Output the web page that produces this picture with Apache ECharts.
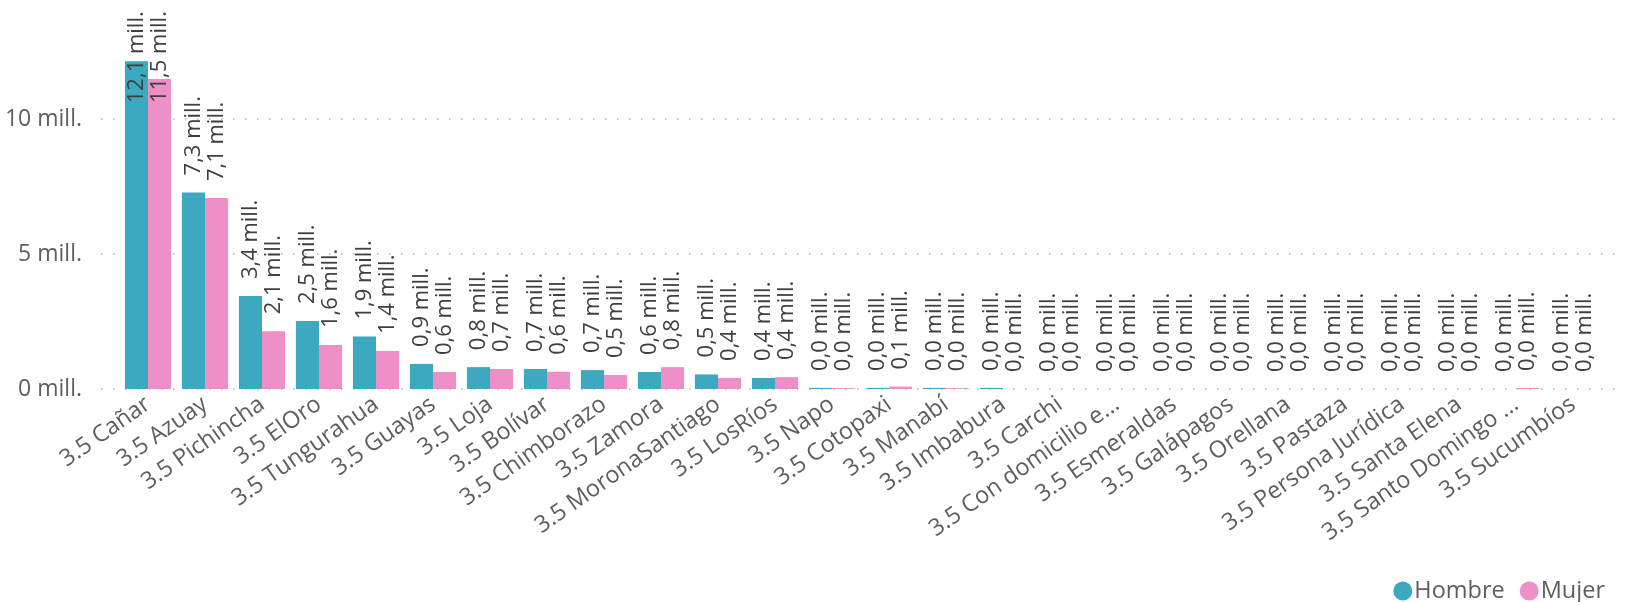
<!DOCTYPE html>
<html>
<head>
<meta charset="utf-8">
<script src="https://cdn.jsdelivr.net/npm/echarts@6/dist/echarts.min.js"></script>
<style>
  html, body { margin: 0; padding: 0; background: #ffffff; }
  #chart { width: 1628px; height: 602px; }
</style>
</head>
<body>
<div id="chart"></div>
<script>
// Categories (provinces)
const categories = [
  '3.5 Cañar', '3.5 Azuay', '3.5 Pichincha', '3.5 ElOro', '3.5 Tungurahua',
  '3.5 Guayas', '3.5 Loja', '3.5 Bolívar', '3.5 Chimborazo', '3.5 Zamora',
  '3.5 MoronaSantiago', '3.5 LosRíos', '3.5 Napo', '3.5 Cotopaxi', '3.5 Manabí',
  '3.5 Imbabura', '3.5 Carchi', '3.5 Con domicilio e...', '3.5 Esmeraldas', '3.5 Galápagos',
  '3.5 Orellana', '3.5 Pastaza', '3.5 Persona Jurídica', '3.5 Santa Elena', '3.5 Santo Domingo ...',
  '3.5 Sucumbíos'
];
// Values in millions
const hombre = [12.14, 7.28, 3.44, 2.52, 1.94, 0.93, 0.81, 0.74, 0.70, 0.63,
  0.54, 0.41, 0.04, 0.04, 0.04, 0.04, 0, 0, 0, 0, 0, 0, 0, 0, 0, 0];
const mujer = [11.48, 7.07, 2.14, 1.63, 1.41, 0.63, 0.74, 0.64, 0.52, 0.81,
  0.41, 0.44, 0.03, 0.09, 0.03, 0, 0, 0, 0, 0, 0, 0, 0, 0, 0.04, 0];
const seriesNames = ['Hombre', 'Mujer'];
const yTicks = [0, 5, 10];
const yMax = 12.5;

const FONT = '"Segoe UI", "Open Sans", "Noto Sans", sans-serif';
const fmt = v => (Math.round(v * 10) / 10).toFixed(1).replace('.', ',') + ' mill.';

// the first category's labels do not fit above the bars, so they are pulled down
const firstLabelShift = { Hombre: 42, Mujer: 24 };
function buildData(arr, name) {
  return arr.map((v, i) => i === 0
    ? { value: v, label: { position: 'insideTop', distance: firstLabelShift[name] } }
    : v);
}

const chart = echarts.init(document.getElementById('chart'), null, { renderer: 'canvas' });
const labelCommon = {
  show: true,
  position: 'top',
  distance: 17,
  rotate: 90,
  align: 'left',
  verticalAlign: 'middle',
  fontFamily: FONT,
  fontSize: 22,
  color: '#3f3f3f',
  formatter: p => fmt(p.value)
};

const GRID_TOP = 51.5, GRID_BOTTOM = 213;

chart.setOption({
  animation: false,
  backgroundColor: '#ffffff',
  color: ['#3DA9C1', '#EE8FC8'],
  grid: [
    { left: 119.5, right: 26.5, top: GRID_TOP, bottom: GRID_BOTTOM },
    { left: 101, right: 12, top: GRID_TOP, bottom: GRID_BOTTOM }
  ],
  legend: {
    data: seriesNames,
    right: 18,
    top: 574,
    icon: 'circle',
    itemWidth: 19,
    itemHeight: 19,
    itemGap: 15,
    textStyle: { fontFamily: FONT, fontSize: 23.5, color: '#605E5C', padding: [0, 0, 0, -3] }
  },
  xAxis: [
    {
      type: 'category',
      gridIndex: 0,
      data: categories,
      axisLine: { show: false },
      axisTick: { show: false },
      axisLabel: {
        interval: 0,
        rotate: 35,
        margin: 13,
        fontFamily: FONT,
        fontSize: 23.5,
        color: '#605E5C'
      }
    },
    {
      type: 'value',
      gridIndex: 1,
      show: false
    }
  ],
  yAxis: [
    {
      type: 'value',
      gridIndex: 0,
      min: 0,
      max: yMax,
      interval: 5,
      show: false,
      splitLine: { show: false }
    },
    {
      type: 'value',
      gridIndex: 1,
      min: 0,
      max: yMax,
      interval: 5,
      axisLine: { show: false },
      axisTick: { show: false },
      axisLabel: {
        margin: 19,
        fontFamily: FONT,
        fontSize: 23,
        color: '#605E5C',
        showMaxLabel: false,
        formatter: v => yTicks.includes(v) ? v + ' mill.' : ''
      },
      splitLine: {
        show: true,
        showMaxLine: false,
        lineStyle: { color: '#C8C6C4', width: 2, type: [1.5, 10.5] }
      }
    }
  ],
  series: [
    {
      name: seriesNames[0],
      type: 'bar',
      xAxisIndex: 0,
      yAxisIndex: 0,
      data: buildData(hombre, 'Hombre'),
      barGap: '0%',
      barCategoryGap: '19%',
      label: labelCommon,
      z: 3
    },
    {
      name: seriesNames[1],
      type: 'bar',
      xAxisIndex: 0,
      yAxisIndex: 0,
      data: buildData(mujer, 'Mujer'),
      barGap: '0%',
      barCategoryGap: '19%',
      label: labelCommon,
      z: 3
    }
  ]
});
</script>
</body>
</html>
